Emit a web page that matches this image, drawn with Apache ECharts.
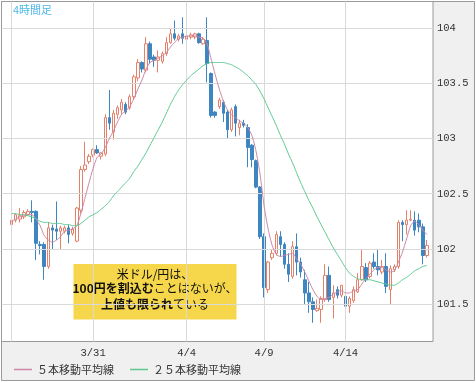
<!DOCTYPE html>
<html><head><meta charset="utf-8">
<script src="https://cdn.jsdelivr.net/npm/echarts@6/dist/echarts.min.js"></script>
<style>html,body{margin:0;padding:0;background:#fff}#c{width:476px;height:383px}</style>
</head><body><div id="c"></div>
<script>
// ---- data (USD/JPY 4-hour candles) ----
const opens=[102.22,102.26,102.27,102.29,102.31,102.34,102.34,102.04,102.04,101.84,
102.19,102.18,102.16,102.16,102.19,102.14,102.07,102.35,102.72,102.79,
102.85,102.90,102.84,102.86,103.19,103.06,103.22,103.26,103.31,103.28,
103.38,103.55,103.69,103.62,103.86,103.74,103.71,103.70,103.77,103.87,
103.95,103.90,103.95,103.90,103.92,103.92,103.95,103.86,103.89,103.59,
103.24,103.29,103.33,103.24,103.08,103.29,103.10,103.14,103.10,102.94,
102.80,102.56,102.11,101.63,101.92,101.96,102.11,102.04,101.86,101.75,
102.02,101.88,101.72,101.60,101.52,101.44,101.45,101.54,101.76,101.56,
101.63,101.58,101.57,101.48,101.53,101.61,101.72,101.83,101.75,101.88,
101.84,101.79,101.84,101.63,101.81,101.84,102.24,102.22,102.26,102.26,
102.26,102.20,101.94];
const closes=[102.26,102.31,102.30,102.33,102.34,102.33,102.05,102.03,101.84,102.19,
102.17,102.16,102.19,102.19,102.13,102.18,102.37,102.72,102.76,102.84,
102.90,102.87,102.87,103.19,103.14,103.23,103.28,103.33,103.24,103.38,
103.56,103.69,103.63,103.86,103.72,103.71,103.74,103.77,103.87,103.95,
103.91,103.93,103.91,103.93,103.94,103.95,103.87,103.90,103.68,103.21,
103.21,103.35,103.23,103.08,103.26,103.14,103.14,103.12,102.92,102.81,
102.56,102.11,101.65,101.88,101.96,102.13,102.04,101.86,101.77,102.02,
101.88,101.79,101.60,101.52,101.45,101.46,101.55,101.76,101.54,101.60,
101.58,101.67,101.48,101.55,101.63,101.72,101.84,101.72,101.87,101.84,
101.81,101.84,101.66,101.82,101.84,102.24,102.22,102.26,102.27,102.17,
102.20,101.94,102.03];
const lows=[102.19,102.24,102.24,102.27,102.30,102.24,101.90,101.95,101.72,101.82,
102.00,102.08,101.99,102.14,102.05,102.12,102.06,102.32,102.70,102.77,
102.83,102.86,102.81,102.84,103.08,102.99,103.18,103.22,103.22,103.26,
103.35,103.52,103.60,103.60,103.68,103.65,103.60,103.68,103.75,103.86,
103.89,103.88,103.86,103.88,103.90,103.90,103.86,103.85,103.51,103.19,
103.19,103.27,103.15,103.00,103.06,103.02,103.03,103.10,102.74,102.74,
102.55,102.09,101.56,101.60,101.90,101.94,101.93,101.82,101.70,101.73,
101.76,101.74,101.50,101.42,101.33,101.43,101.33,101.52,101.52,101.37,
101.55,101.56,101.43,101.42,101.51,101.60,101.71,101.70,101.73,101.82,
101.76,101.77,101.60,101.50,101.79,101.82,102.07,102.13,102.25,102.12,
102.15,101.86,101.92];
const highs=[102.28,102.32,102.37,102.35,102.36,102.44,102.35,102.07,102.06,102.24,
102.22,102.43,102.21,102.21,102.22,102.20,102.38,102.75,102.97,102.86,
102.91,102.94,102.88,103.22,103.44,103.26,103.30,103.36,103.33,103.40,
103.58,103.72,103.70,103.92,103.88,103.76,103.80,103.79,103.92,104.00,
104.07,103.95,104.10,103.95,103.96,103.96,103.96,103.92,104.10,103.60,
103.25,103.37,103.35,103.26,103.28,103.31,103.17,103.17,103.13,102.95,
102.81,102.57,102.14,101.89,101.99,102.16,102.16,102.06,101.96,102.07,
102.14,101.92,101.81,101.70,101.56,101.54,101.57,101.86,101.84,101.67,
101.66,101.67,101.62,101.57,101.66,101.78,101.99,101.87,101.89,101.96,
101.99,101.90,101.96,101.85,101.86,102.26,102.26,102.35,102.35,102.34,
102.32,102.23,102.08];
const ma5=[102.25,102.27,102.29,102.30,102.31,102.31,102.27,102.21,102.12,102.08,
102.06,102.08,102.11,102.16,102.17,102.18,102.21,102.32,102.46,102.60,
102.73,102.83,102.86,102.92,103.00,103.07,103.15,103.22,103.25,103.29,
103.36,103.45,103.53,103.63,103.69,103.71,103.73,103.75,103.78,103.83,
103.87,103.91,103.92,103.93,103.93,103.93,103.92,103.91,103.86,103.72,
103.58,103.45,103.34,103.26,103.22,103.19,103.16,103.14,103.10,103.03,
102.89,102.68,102.39,102.18,102.03,101.95,101.93,101.94,101.95,101.96,
101.91,101.86,101.79,101.71,101.63,101.57,101.54,101.55,101.56,101.59,
101.61,101.62,101.60,101.60,101.62,101.63,101.68,101.73,101.77,101.81,
101.83,101.83,101.81,101.79,101.80,101.88,101.97,102.09,102.21,102.25,
102.22,102.17,102.13];
const ma25=[102.32,102.32,102.31,102.31,102.30,102.29,102.27,102.25,102.24,102.24,
102.23,102.23,102.23,102.22,102.22,102.21,102.21,102.23,102.26,102.29,
102.31,102.33,102.36,102.39,102.43,102.48,102.52,102.56,102.60,102.64,
102.70,102.75,102.81,102.87,102.94,103.01,103.08,103.15,103.23,103.31,
103.38,103.44,103.49,103.53,103.57,103.60,103.63,103.66,103.68,103.69,
103.69,103.69,103.69,103.68,103.67,103.65,103.63,103.60,103.57,103.53,
103.49,103.43,103.36,103.28,103.20,103.12,103.03,102.95,102.86,102.78,
102.69,102.60,102.52,102.44,102.37,102.29,102.22,102.15,102.08,102.01,
101.95,101.89,101.83,101.78,101.75,101.73,101.72,101.72,101.72,101.71,
101.70,101.69,101.68,101.67,101.67,101.69,101.72,101.74,101.77,101.80,
101.82,101.84,101.85];
const dateTickIndex=[0,20,43,62,82];
const dateTickLabels=['','3/31','4/4','4/9','4/14'];
const yTicks=[101.5,102,102.5,103,103.5,104];
const seriesNames=['５本移動平均線','２５本移動平均線'];
const periodLabel='4時間足';
const noteLines=[['米ドル/円は、',''],['100円を割込む','ことはないが、'],['上値も限られ','ている']];

// ---- build ----
const lead=2, trail=1, n=opens.length, total=lead+n+trail;
const categories=Array.from({length:total},(_,i)=>String(i));
const slot=(arr)=>categories.map((_,i)=>{const k=i-lead;return (k>=0&&k<n)?arr[k]:'-';});
const candleData=categories.map((_,i)=>{const k=i-lead;return (k>=0&&k<n)?[opens[k],closes[k],lows[k],highs[k]]:'-';});
const labelSlots=dateTickIndex.map(k=>k+lead);
const gridLines=yTicks.map(v=>({yAxis:v})).concat(labelSlots.map(s=>({xAxis:String(s)})));
const CJK='"Noto Sans CJK JP", sans-serif';
const MONO='"Liberation Mono", "DejaVu Sans Mono", monospace';

function noteText(line,idx){
  return {type:'text', x:81.5, y:[10,24.5,40.5][idx],
    style:{text:(line[0]?'{b|'+line[0]+'}':'')+(line[1]?'{n|'+line[1]+'}':''),
      align:'center', verticalAlign:'middle',
      rich:{b:{fontSize:12,fontFamily:CJK,fontWeight:idx===0?'normal':'bold',fill:'#111'},
            n:{fontSize:12,fontFamily:CJK,fontWeight:'normal',fill:'#111'}}}};
}

const chart=echarts.init(document.getElementById('c'),null,{renderer:'canvas'});
chart.setOption({
  animation:false,
  backgroundColor:'#ffffff',
  title:{text:periodLabel,left:13,top:4,padding:0,textStyle:{color:'#4db8ea',fontSize:11,fontWeight:'normal',fontFamily:CJK}},
  legend:{data:seriesNames,left:14,top:364,padding:0,itemGap:16,itemWidth:18,itemHeight:1.5,icon:'rect',
    textStyle:{fontSize:11,color:'#333',fontFamily:CJK}},
  grid:{left:1.5,top:1.5,right:43,bottom:41.5,show:true,backgroundColor:'#ffffff',borderColor:'#9a9a9a',borderWidth:1,containLabel:false},
  xAxis:{type:'category',data:categories,boundaryGap:true,
    axisLine:{show:false},axisTick:{show:false},splitLine:{show:false},
    axisLabel:{interval:(i)=>{const p=labelSlots.indexOf(i);return p>=0&&dateTickLabels[p]!=='';},
      formatter:(v,i)=>{const p=labelSlots.indexOf(Number(v));return p>=0?dateTickLabels[p]:'';},
      margin:6,color:'#333',fontSize:10.5,fontFamily:MONO}},
  yAxis:{type:'value',position:'right',min:101.16,max:104.243,scale:true,
    axisLine:{show:false},axisTick:{show:false},splitLine:{show:false},
    axisLabel:{customValues:yTicks,margin:4,color:'#333',fontSize:10.5,fontFamily:MONO,formatter:(v)=>String(v)}},
  graphic:[
    {type:'rect',z:-5,shape:{x:1.5,y:1.5,width:473,height:379},style:{fill:'#f0f0f0',stroke:'#9a9a9a',lineWidth:1}},
    {type:'group',left:72.5,top:264,z:50,children:[
      {type:'rect',shape:{x:0,y:0,width:163,height:55.5},style:{fill:'#f6d64b'}},
      noteText(noteLines[0],0),noteText(noteLines[1],1),noteText(noteLines[2],2)
    ]}
  ],
  series:[
    {type:'line',name:'grid',data:slot(new Array(n).fill('-')),z:1,silent:true,symbol:'none',
      markLine:{silent:true,symbol:['none','none'],label:{show:false},animation:false,
        lineStyle:{color:'#d9d9d9',width:1,type:'solid'},data:gridLines}},
    {type:'candlestick',name:'USD/JPY',data:candleData,z:3,barWidth:3,
      itemStyle:{color:'#ffffff',color0:'#3d86c2',borderColor:'#e5806a',borderColor0:'#3d86c2',borderWidth:1}},
    {type:'line',name:seriesNames[0],data:slot(ma5),z:5,symbol:'none',smooth:0.2,color:'#cc88a8',
      lineStyle:{color:'#cc88a8',width:1}},
    {type:'line',name:seriesNames[1],data:slot(ma25),z:5,symbol:'none',smooth:0.2,color:'#5ccb92',
      lineStyle:{color:'#5ccb92',width:1}}
  ]
});
</script></body></html>
